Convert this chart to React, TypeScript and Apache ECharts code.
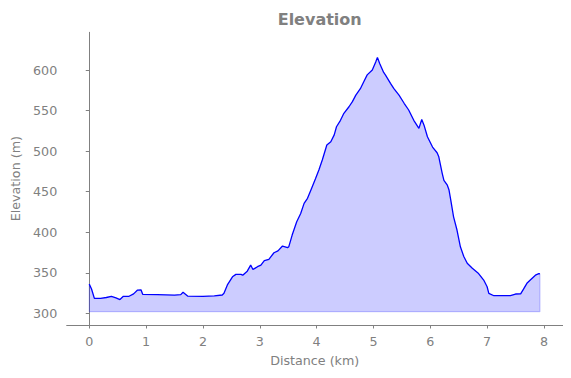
import React, { useEffect, useRef } from "react";
import * as echarts from "echarts";

const distances = [
  0.0, 0.04, 0.09, 0.2, 0.3, 0.39, 0.47, 0.54, 0.6, 0.7, 0.78, 0.85, 0.91, 0.94, 1.2, 1.5, 1.61, 1.65, 1.73, 2.0,
  2.2, 2.34, 2.37, 2.43, 2.52, 2.58, 2.67, 2.7, 2.78, 2.84, 2.88, 2.96, 3.02, 3.08, 3.16, 3.25, 3.32, 3.4, 3.49,
  3.51, 3.57, 3.65, 3.72, 3.78, 3.84, 3.9, 3.98, 4.04, 4.1, 4.18, 4.25, 4.31, 4.35, 4.42, 4.48, 4.57, 4.63, 4.69,
  4.77, 4.83, 4.89, 4.98, 5.04, 5.07, 5.11, 5.18, 5.21, 5.3, 5.36, 5.45, 5.54, 5.62, 5.71, 5.8, 5.85, 5.89, 5.95,
  6.04, 6.12, 6.15, 6.21, 6.24, 6.3, 6.33, 6.36, 6.41, 6.47, 6.53, 6.59, 6.65, 6.74, 6.85, 6.94, 7.0, 7.03, 7.12,
  7.41, 7.5, 7.59, 7.63, 7.7, 7.76, 7.85, 7.91, 7.93,
];

const elevations = [
  336, 330, 318.5, 318.5, 319.5, 321, 319, 317, 321, 321, 324, 328.7, 329, 323.4, 323, 322.5, 323, 326, 321.3, 321,
  321.5, 322.6, 324.7, 335, 345, 348, 348, 347, 352, 359.5, 354, 357.5, 359.5, 365, 366.6, 374.7, 377, 383, 381,
  382, 396.5, 413, 423, 435.6, 441.8, 452, 466, 476.7, 489, 507.5, 511.6, 520, 530, 538, 546.6, 554.7, 561, 569,
  577, 585.6, 594, 600, 610, 615.6, 608, 597, 594, 583.6, 577, 569, 559, 550.7, 538, 528, 539, 532, 517.7,
  505, 498, 493, 472.6, 464, 458, 452, 440, 419, 402.7, 382, 370, 361.7, 355.5, 349, 341, 332.8, 324.7, 321.7,
  321.7, 323.8, 324, 328.7, 337, 341, 347, 349, 348.5,
];

const fillBase = 302;
const xTicks = [0, 1, 2, 3, 4, 5, 6, 7, 8];
const yTicks = [300, 350, 400, 450, 500, 550, 600];

const GRAY = "#808080";
const FONT = "DejaVu Sans";

export default function App() {
  const ref = useRef<HTMLDivElement>(null);
  useEffect(() => {
    if (!ref.current) return;
    const chart = echarts.init(ref.current, undefined, { renderer: "svg" });
    const pts = distances.map((d, i) => [d, elevations[i]]);
    const n = distances.length;
    const edge = [
      [distances[0], elevations[0]],
      [distances[0], fillBase],
      [distances[n - 1], fillBase],
      [distances[n - 1], elevations[n - 1]],
    ];
    chart.setOption({
      animation: false,
      title: {
        text: "Elevation",
        left: 314.7,
        textAlign: "center",
        top: 6,
        textStyle: { fontFamily: FONT, fontSize: 16, fontWeight: "bold", color: GRAY },
      },
      grid: { left: 66.7, right: 8.3, top: 32.3, bottom: 53, containLabel: false },
      xAxis: {
        type: "value",
        min: -0.397,
        max: 8.33,
        splitLine: { show: false },
        axisLine: { show: true, lineStyle: { color: GRAY, width: 1 } },
        axisTick: { show: true, length: 3.5, customValues: xTicks, lineStyle: { color: GRAY } },
        axisLabel: {
          customValues: xTicks,
          margin: 10,
          color: GRAY,
          fontFamily: FONT,
          fontSize: 12.7,
        },
        name: "Distance (km)",
        nameLocation: "middle",
        nameGap: 29,
        nameTextStyle: { color: GRAY, fontFamily: FONT, fontSize: 12.7 },
      },
      yAxis: {
        type: "value",
        min: 285.6,
        max: 646.5,
        splitLine: { show: false },
        axisLine: { show: true, lineStyle: { color: GRAY, width: 1 } },
        axisTick: { show: true, length: 3.5, customValues: yTicks, lineStyle: { color: GRAY } },
        axisLabel: {
          customValues: yTicks,
          margin: 9.5,
          color: GRAY,
          fontFamily: FONT,
          fontSize: 12.7,
        },
        name: "Elevation (m)",
        nameLocation: "middle",
        nameGap: 44,
        nameTextStyle: { color: GRAY, fontFamily: FONT, fontSize: 12.7 },
      },
      series: [
        {
          type: "line",
          data: edge,
          symbol: "none",
          lineStyle: { color: "rgba(0,0,255,0.2)", width: 1.2 },
          silent: true,
        },
        {
          type: "line",
          data: pts,
          symbol: "none",
          lineStyle: { color: "#0000ff", width: 1.3 },
          areaStyle: { color: "rgba(0,0,255,0.2)", origin: fillBase, opacity: 1 },
        },
      ],
    });
    return () => chart.dispose();
  }, []);
  return <div ref={ref} style={{ width: 571, height: 378, marginLeft: -8, marginTop: -8 }} />;
}
